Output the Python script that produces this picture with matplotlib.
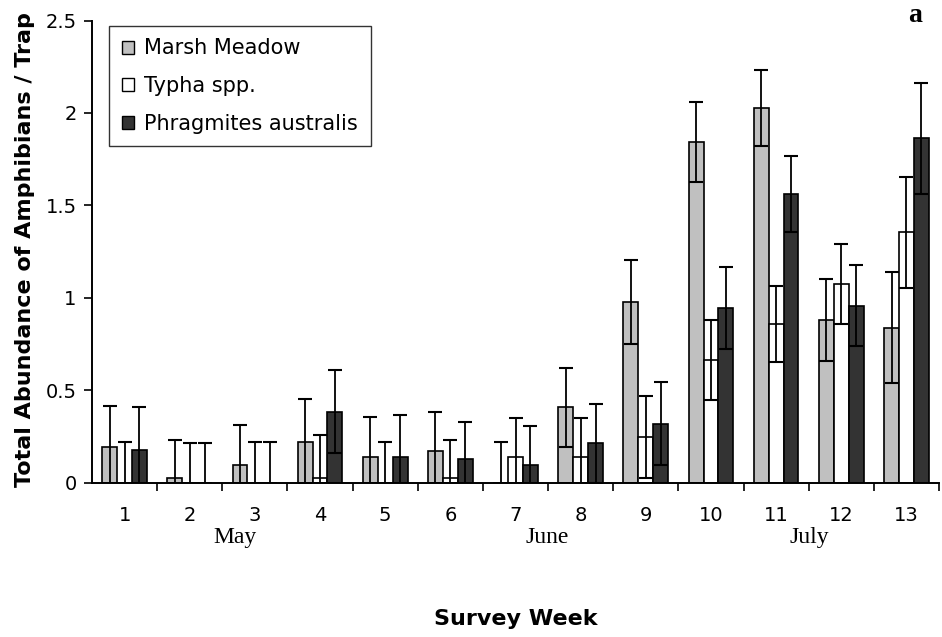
import matplotlib
matplotlib.use("Agg")
import matplotlib.pyplot as plt
from matplotlib.patches import Patch
import matplotlib.transforms as mtransforms
import numpy as np

# survey weeks and mean abundance / trap (with error) per habitat
weeks = [1, 2, 3, 4, 5, 6, 7, 8, 9, 10, 11, 12, 13]
week_labels = [str(w) for w in weeks]

marsh = [0.19, 0.027, 0.092, 0.22, 0.137, 0.169, 0.0, 0.407, 0.977, 1.843, 2.025, 0.88, 0.837]
marsh_err = [0.225, 0.205, 0.22, 0.23, 0.216, 0.214, 0.22, 0.215, 0.225, 0.215, 0.205, 0.22, 0.30]

typha = [0.0, 0.0, 0.0, 0.027, 0.0, 0.025, 0.137, 0.137, 0.245, 0.664, 0.859, 1.074, 1.355]
typha_err = [0.22, 0.212, 0.22, 0.23, 0.22, 0.207, 0.21, 0.213, 0.222, 0.216, 0.205, 0.215, 0.30]

phrag = [0.178, 0.0, 0.0, 0.383, 0.137, 0.126, 0.094, 0.212, 0.318, 0.945, 1.56, 0.956, 1.863]
phrag_err = [0.23, 0.212, 0.22, 0.225, 0.226, 0.2, 0.21, 0.215, 0.225, 0.22, 0.205, 0.22, 0.30]

series_names = ["Marsh Meadow", "Typha spp.", "Phragmites australis"]
series_colors = ["#c0c0c0", "#ffffff", "#333333"]

months = ["May", "June", "July"]
month_pos = [2.7, 7.49, 11.51]

yticks = [0, 0.5, 1, 1.5, 2, 2.5]
ytick_labels = ["0", "0.5", "1", "1.5", "2", "2.5"]

fig = plt.figure(figsize=(9.42, 6.37), dpi=100)
ax = fig.add_axes([92 / 942, 1 - 482.5 / 637, 847 / 942, 462 / 637])

x = np.array(weeks, dtype=float)
width = 0.229
offsets = [-width, 0.0, width]
values = [marsh, typha, phrag]
errors = [marsh_err, typha_err, phrag_err]

for vals, errs, off, col, name in zip(values, errors, offsets, series_colors, series_names):
    ax.bar(x + off, vals, width=width, color=col, edgecolor="black",
           linewidth=1.2, label=name, zorder=2)
    ax.errorbar(x + off, vals, yerr=errs, fmt="none", ecolor="black",
                elinewidth=1.3, capsize=5.3, capthick=1.5, zorder=3)

ax.set_xlim(0.5, 13.5)
ax.set_ylim(0, 2.5)

# y axis
ax.set_yticks(yticks)
ax.set_yticklabels(ytick_labels)
ax.tick_params(axis="y", direction="out", length=6, width=1.2, pad=5, labelsize=14)

# x axis: ticks between groups, labels at group centres
ax.set_xticks(np.arange(1.5, 13.6, 1.0))
ax.set_xticklabels([])
ax.set_xticks(x, minor=True)
ax.set_xticklabels(week_labels, minor=True)
ax.tick_params(axis="x", which="major", direction="out", length=6, width=1.2)
ax.tick_params(axis="x", which="minor", length=0, pad=17, labelsize=14)

for side in ["top", "right"]:
    ax.spines[side].set_visible(False)
for side in ["left", "bottom"]:
    ax.spines[side].set_linewidth(1.4)

# month labels under the week numbers
trans = mtransforms.blended_transform_factory(ax.transData, ax.transAxes)
for m, pos in zip(months, month_pos):
    ax.text(pos, -0.118, m, transform=trans, ha="center", va="center",
            fontsize=17, family="Liberation Serif")

ax.set_xlabel("Survey Week", fontsize=16, fontweight="bold")
ax.xaxis.set_label_coords((515.5 - 92) / 847, (482.5 - 609) / 462)
ax.set_ylabel("Total Abundance of Amphibians / Trap", fontsize=16, fontweight="bold")
ax.yaxis.set_label_coords((35 - 92) / 847, (482.5 - 250) / 462)

fig.text(915 / 942, 1 - 15 / 637, "a", ha="center", va="center", fontsize=20,
         fontweight="bold", family="Liberation Serif")

handles = [Patch(facecolor=c, edgecolor="black", linewidth=1.0) for c in series_colors]
leg = ax.legend(handles, series_names, loc="upper left",
                bbox_to_anchor=((109 - 92) / 847, (482.5 - 26) / 462),
                borderaxespad=0, fontsize=15, frameon=True, fancybox=False,
                handlelength=0.6, handleheight=0.6, handletextpad=0.5,
                labelspacing=0.85, borderpad=0.6)
leg.get_frame().set_edgecolor("black")
leg.get_frame().set_linewidth(1.0)

fig.savefig("out.png", dpi=100)
